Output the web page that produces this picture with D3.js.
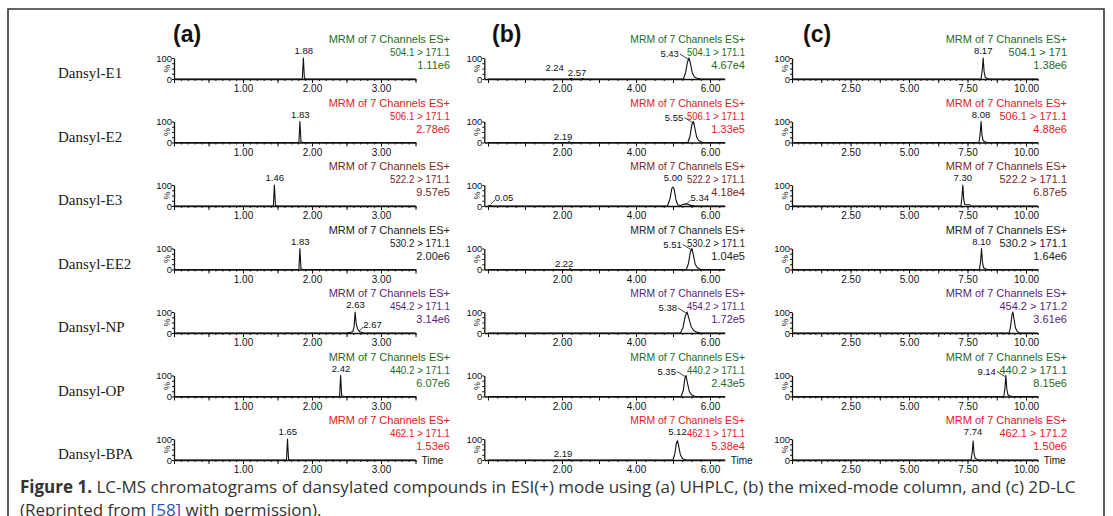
<!DOCTYPE html>
<html>
<head>
<meta charset="utf-8">
<script src="https://cdn.jsdelivr.net/npm/d3@7"></script>
<style>
  body { margin: 0; background: #fff; }
  svg { display: block; }
</style>
</head>
<body>
<div id="chart-container"></div>
<script>
// rows (same compounds in each column)
const compounds = ["Dansyl-E1", "Dansyl-E2", "Dansyl-E3", "Dansyl-EE2", "Dansyl-NP", "Dansyl-OP", "Dansyl-BPA"];
const panelTitles = ["(a)", "(b)", "(c)"];
const channelTitle = "MRM of 7 Channels ES+";

// x axis tick labels (min)
const tickLabelsA = [1, 2, 3];
const tickLabelsB = [2, 4, 6];
const tickLabelsC = [2.5, 5, 7.5, 10];

// MRM transitions and base peak intensities
const transA = ["504.1 > 171.1", "506.1 > 171.1", "522.2 > 171.1", "530.2 > 171.1", "454.2 > 171.1", "440.2 > 171.1", "462.1 > 171.1"];
const countsA = ["1.11e6", "2.78e6", "9.57e5", "2.00e6", "3.14e6", "6.07e6", "1.53e6"];
const transB = ["504.1 > 171.1", "506.1 > 171.1", "522.2 > 171.1", "530.2 > 171.1", "454.2 > 171.1", "440.2 > 171.1", "462.1 > 171.1"];
const countsB = ["4.67e4", "1.33e5", "4.18e4", "1.04e5", "1.72e5", "2.43e5", "5.38e4"];
const transC = ["504.1 > 171", "506.1 > 171.1", "522.2 > 171.1", "530.2 > 171.1", "454.2 > 171.2", "440.2 > 171.1", "462.1 > 171.2"];
const countsC = ["1.38e6", "4.88e6", "6.87e5", "1.64e6", "3.61e6", "8.15e6", "1.50e6"];

// chromatogram traces, [time min, relative intensity %]
const tracesA = [
  [[0, 0], [1.86, 0], [1.875, 100], [1.89, 4], [1.92, 0], [3.5, 0]],
  [[0, 0], [1.81, 0], [1.825, 100], [1.84, 4], [1.87, 0], [3.5, 0]],
  [[0, 0], [1.44, 0], [1.455, 100], [1.47, 3], [1.5, 0], [3.5, 0]],
  [[0, 0], [1.81, 0], [1.825, 100], [1.84, 4], [1.87, 0], [3.5, 0]],
  [[0, 0], [2.5, 0], [2.55, 3], [2.59, 6], [2.61, 30], [2.625, 100], [2.64, 45], [2.66, 20], [2.69, 6], [2.74, 1], [2.8, 0], [3.5, 0]],
  [[0, 0], [2.4, 0], [2.415, 100], [2.43, 4], [2.46, 0], [3.5, 0]],
  [[0, 0], [1.63, 0], [1.645, 100], [1.66, 4], [1.69, 0], [3.5, 0]]
];
const tracesB = [
  [[0, 0], [2.2, 0], [2.24, 3], [2.28, 0], [2.53, 0], [2.57, 2], [2.61, 0], [5.28, 0], [5.34, 30], [5.39, 80], [5.43, 100], [5.47, 75], [5.52, 30], [5.58, 10], [5.66, 3], [5.75, 0], [6.4, 0]],
  [[0, 0], [2.15, 0], [2.19, 3], [2.23, 0], [5.4, 0], [5.46, 30], [5.51, 85], [5.55, 100], [5.59, 70], [5.64, 25], [5.7, 8], [5.8, 0], [6.4, 0]],
  [[0, 0], [0.05, 4], [0.12, 0], [4.85, 0], [4.92, 35], [4.97, 85], [5.0, 90], [5.03, 80], [5.08, 30], [5.13, 5], [5.2, 2], [5.28, 8], [5.34, 10], [5.4, 8], [5.48, 3], [5.6, 0], [6.4, 0]],
  [[0, 0], [2.18, 0], [2.22, 3], [2.26, 0], [5.36, 0], [5.42, 30], [5.47, 85], [5.51, 100], [5.55, 70], [5.6, 25], [5.66, 8], [5.75, 0], [6.4, 0]],
  [[0, 0], [5.2, 0], [5.27, 25], [5.33, 80], [5.38, 100], [5.43, 70], [5.49, 30], [5.56, 12], [5.64, 4], [5.75, 0], [6.4, 0]],
  [[0, 0], [5.22, 0], [5.28, 30], [5.32, 85], [5.35, 100], [5.39, 65], [5.44, 25], [5.5, 8], [5.6, 0], [6.4, 0]],
  [[0, 0], [2.15, 0], [2.19, 2], [2.23, 0], [5.0, 0], [5.05, 30], [5.09, 80], [5.12, 92], [5.15, 70], [5.2, 25], [5.26, 6], [5.35, 0], [6.4, 0]]
];
const tracesC = [
  [[0, 0], [8.08, 0], [8.13, 40], [8.17, 100], [8.21, 35], [8.26, 8], [8.35, 2], [8.45, 0], [10.5, 0]],
  [[0, 0], [7.99, 0], [8.04, 40], [8.08, 100], [8.12, 35], [8.17, 8], [8.26, 2], [8.36, 0], [10.5, 0]],
  [[0, 0], [7.22, 0], [7.26, 40], [7.3, 100], [7.34, 30], [7.38, 8], [7.45, 6], [7.6, 6], [7.65, 0], [10.5, 0]],
  [[0, 0], [8.01, 0], [8.06, 40], [8.1, 100], [8.14, 35], [8.19, 8], [8.28, 2], [8.38, 0], [10.5, 0]],
  [[0, 0], [9.28, 0], [9.34, 30], [9.4, 85], [9.44, 100], [9.49, 65], [9.55, 25], [9.62, 8], [9.72, 0], [10.5, 0]],
  [[0, 0], [9.05, 0], [9.1, 40], [9.14, 100], [9.18, 35], [9.23, 8], [9.32, 2], [9.42, 0], [10.5, 0]],
  [[0, 0], [7.65, 0], [7.7, 35], [7.74, 90], [7.78, 30], [7.83, 8], [7.92, 2], [8.0, 0], [10.5, 0]]
];

// retention time labels on peaks
const peaksA = [
  [{t: 1.88, text: "1.88", pos: "top"}],
  [{t: 1.83, text: "1.83", pos: "top"}],
  [{t: 1.46, text: "1.46", pos: "top"}],
  [{t: 1.83, text: "1.83", pos: "top"}],
  [{t: 2.63, text: "2.63", pos: "top"}, {t: 2.67, text: "2.67", pos: "right"}],
  [{t: 2.42, text: "2.42", pos: "top"}],
  [{t: 1.65, text: "1.65", pos: "top"}]
];
const peaksB = [
  [{t: 2.24, text: "2.24", pos: "lowleft"}, {t: 2.57, text: "2.57", pos: "low"}, {t: 5.43, text: "5.43", pos: "left"}],
  [{t: 2.19, text: "2.19", pos: "low"}, {t: 5.55, text: "5.55", pos: "left"}],
  [{t: 0.05, text: "0.05", pos: "right"}, {t: 5.00, text: "5.00", pos: "top"}, {t: 5.34, text: "5.34", pos: "right"}],
  [{t: 2.22, text: "2.22", pos: "low"}, {t: 5.51, text: "5.51", pos: "left"}],
  [{t: 5.38, text: "5.38", pos: "left"}],
  [{t: 5.35, text: "5.35", pos: "left"}],
  [{t: 2.19, text: "2.19", pos: "low"}, {t: 5.12, text: "5.12", pos: "top"}]
];
const peaksC = [
  [{t: 8.17, text: "8.17", pos: "top"}],
  [{t: 8.08, text: "8.08", pos: "top"}],
  [{t: 7.30, text: "7.30", pos: "top"}],
  [{t: 8.10, text: "8.10", pos: "top"}],
  [],
  [{t: 9.14, text: "9.14", pos: "left"}],
  [{t: 7.74, text: "7.74", pos: "top"}]
];

const width = 1113;
const height = 516;
const rowColors = ["#1e6b1e", "#e3191c", "#7a1f22", "#222222", "#5a1f78", "#1e6b1e", "#e3191c"];
const sans = "'Liberation Sans', Arial, sans-serif";

const panels = [
  {title: panelTitles[0], traces: tracesA, peaks: peaksA, trans: transA, counts: countsA, labels: tickLabelsA,
   domain: [0, 3.5], range: [174, 415.5], major: 0.5, minor: 0.1, textRight: 450, titleX: 173,
   mrmSize: 11, transLen: 60},
  {title: panelTitles[1], traces: tracesB, peaks: peaksB, trans: transB, counts: countsB, labels: tickLabelsB,
   domain: [-0.1, 6.4], range: [484.3, 724.8], major: 1, minor: 0.25, textRight: 745, titleX: 492,
   mrmSize: 10.4, transLen: 58},
  {title: panelTitles[2], traces: tracesC, peaks: peaksC, trans: transC, counts: countsC, labels: tickLabelsC,
   domain: [0, 10.5], range: [792, 1037.7], major: 1.25, minor: 0.25, textRight: 1067, titleX: 803,
   mrmSize: 11, transLen: null}
];

const svg = d3.select("#chart-container").append("svg")
    .attr("width", width)
    .attr("height", height)
    .attr("viewBox", [0, 0, width, height]);

svg.append("rect").attr("width", width).attr("height", height).attr("fill", "#fff");

// frame
svg.append("path")
    .attr("d", `M8,${height + 5}V9H1104V${height + 5}`)
    .attr("fill", "none")
    .attr("stroke", "#333")
    .attr("stroke-width", 1.6);

const rowY = d3.scaleLinear().domain([0, compounds.length - 1]).range([79, 460]);
const y = d3.scaleLinear().domain([0, 100]).range([0, -21]);

function steps(lo, hi, step) {
  const n = Math.floor((hi - lo) / step + 1e-6);
  return d3.range(0, n + 1).map(i => +(lo + i * step).toFixed(3));
}

// row names
svg.append("g").selectAll("text")
  .data(compounds)
  .join("text")
    .attr("x", 58)
    .attr("y", (d, i) => rowY(i) - 1)
    .attr("font-family", "'Liberation Serif', 'Times New Roman', serif")
    .attr("font-size", 15)
    .attr("fill", "#1a1a1a")
    .text(d => d);

panels.forEach(p => {
  const x = d3.scaleLinear().domain(p.domain).range(p.range);
  const start = Math.max(0, p.domain[0]);
  const minorTicks = steps(start, p.domain[1], p.minor);
  const majorTicks = steps(start, p.domain[1], p.major);

  svg.append("text")
      .attr("x", p.titleX)
      .attr("y", 42)
      .attr("font-family", sans)
      .attr("font-weight", "bold")
      .attr("font-size", 23)
      .attr("fill", "#111")
      .text(p.title);

  const line = d3.line()
      .x(d => x(d[0]))
      .y(d => y(d[1]));

  compounds.forEach((c, i) => {
    const g = svg.append("g").attr("transform", `translate(0,${rowY(i)})`);
    const x0 = x(p.domain[0]);

    // x axis: minor then major ticks
    g.append("g")
        .call(d3.axisBottom(x).tickValues(minorTicks).tickSize(2).tickSizeOuter(0).tickFormat(""))
        .call(a => a.selectAll("line").attr("stroke", "#111"))
        .call(a => a.select(".domain").attr("stroke", "#111").attr("stroke-width", 1.4));
    g.append("g")
        .call(d3.axisBottom(x).tickValues(majorTicks).tickSize(4).tickPadding(2).tickSizeOuter(0)
          .tickFormat(d => p.labels.includes(d) ? d.toFixed(2) : ""))
        .call(a => a.select(".domain").remove())
        .call(a => a.selectAll("line").attr("stroke", "#111"))
        .call(a => a.selectAll("text").attr("font-family", sans).attr("font-size", 10).attr("fill", "#111"));

    // y axis
    g.append("g")
        .attr("transform", `translate(${x0},0)`)
        .call(d3.axisLeft(y).tickValues([0, 25, 50, 75, 100]).tickSize(2).tickSizeOuter(0).tickFormat(""))
        .call(a => a.selectAll("line").attr("stroke", "#111"))
        .call(a => a.select(".domain").attr("stroke", "#111").attr("stroke-width", 1.3));
    g.append("text").attr("x", x0 - 2).attr("y", y(100) + 3.5).attr("text-anchor", "end")
        .attr("font-family", sans).attr("font-size", 9.5).attr("fill", "#111").text("100");
    g.append("text").attr("x", x0 - 2).attr("y", 3.5).attr("text-anchor", "end")
        .attr("font-family", sans).attr("font-size", 9.5).attr("fill", "#111").text("0");
    g.append("text").attr("transform", `translate(${x0 - 4},${y(50)}) rotate(-90)`)
        .attr("text-anchor", "middle")
        .attr("font-family", sans).attr("font-size", 9).attr("fill", "#111").text("%");

    // trace
    g.append("path")
        .datum(p.traces[i])
        .attr("fill", "none")
        .attr("stroke", "#111")
        .attr("stroke-width", 1.1)
        .attr("stroke-linejoin", "round")
        .attr("d", line);

    // peak labels
    p.peaks[i].forEach(pk => {
      const px = x(pk.t);
      const t = g.append("text")
          .attr("font-family", sans)
          .attr("font-size", 9.5)
          .attr("fill", "#111")
          .text(pk.text);
      if (pk.pos === "top") {
        t.attr("x", px).attr("y", y(100) - 4).attr("text-anchor", "middle");
      } else if (pk.pos === "left") {
        t.attr("x", px - 10).attr("y", -22).attr("text-anchor", "end");
        g.append("line").attr("x1", px - 9).attr("y1", -25).attr("x2", px - 1).attr("y2", -20)
            .attr("stroke", "#111").attr("stroke-width", 0.8);
      } else if (pk.pos === "right") {
        t.attr("x", px + 5).attr("y", -5).attr("text-anchor", "start");
        g.append("line").attr("x1", px + 1).attr("y1", -2).attr("x2", px + 5).attr("y2", -6)
            .attr("stroke", "#111").attr("stroke-width", 0.8);
      } else if (pk.pos === "lowleft") {
        t.attr("x", px - 7).attr("y", -8).attr("text-anchor", "end");
      } else {
        t.attr("x", px - 6).attr("y", -3).attr("text-anchor", "middle");
      }
    });

    // channel info
    const info = [channelTitle, p.trans[i], p.counts[i]];
    g.selectAll("text.info")
      .data(info)
      .join("text")
        .attr("class", "info")
        .attr("x", p.textRight)
        .attr("y", (d, k) => -36 + k * 13)
        .attr("text-anchor", "end")
        .attr("font-family", sans)
        .attr("font-size", (d, k) => k === 0 ? p.mrmSize : 11)
        .attr("textLength", (d, k) => k === 1 && p.transLen ? p.transLen : null)
        .attr("lengthAdjust", "spacingAndGlyphs")
        .attr("fill", rowColors[i])
        .text(d => d);

    if (i === compounds.length - 1) {
      g.append("text")
          .attr("x", p.range[1] + 6)
          .attr("y", 4)
          .attr("font-family", sans)
          .attr("font-size", 10)
          .attr("fill", "#111")
          .text("Time");
    }
  });
});

// caption
const cap = svg.append("text")
    .attr("x", 20)
    .attr("y", 493)
    .attr("font-family", "'Open Sans', sans-serif")
    .attr("font-size", 17)
    .attr("fill", "#333");
cap.append("tspan").attr("font-weight", "bold").text("Figure 1.");
cap.append("tspan").text(" LC-MS chromatograms of dansylated compounds in ESI(+) mode using (a) UHPLC, (b) the mixed-mode column, and (c) 2D-LC");

const cap2 = svg.append("text")
    .attr("x", 20)
    .attr("y", 516)
    .attr("font-family", "'Open Sans', sans-serif")
    .attr("font-size", 17)
    .attr("fill", "#333");
cap2.append("tspan").text("(Reprinted from ");
cap2.append("tspan").attr("fill", "#2b55a8").text("[58]");
cap2.append("tspan").text(" with permission).");
</script>
</body>
</html>
